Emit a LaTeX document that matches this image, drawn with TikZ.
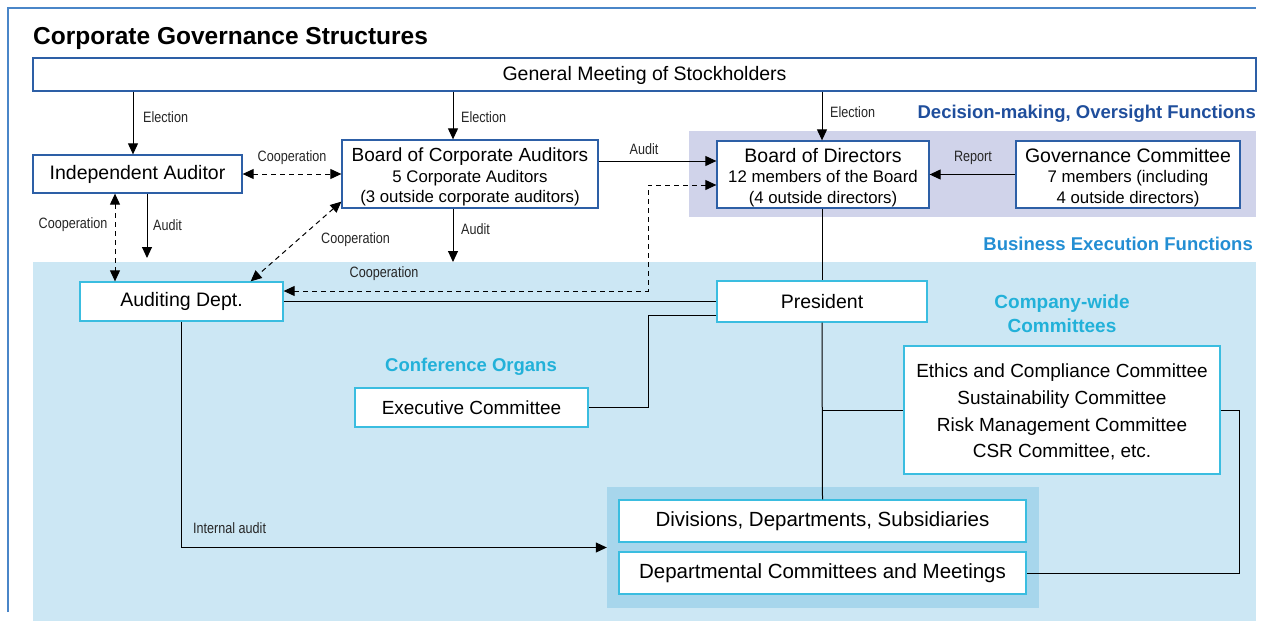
\documentclass[tikz,border=0pt]{standalone}
\usepackage{fontspec}
\setmainfont{Liberation Sans}
\newfontfamily\condfont[FakeStretch=0.84]{Liberation Sans}
\usetikzlibrary{arrows.meta}
\definecolor{frameblue}{HTML}{4A86C8}
\definecolor{dblue}{HTML}{2D5FA6}
\definecolor{cyanb}{HTML}{3ABDE0}
\definecolor{purplebg}{HTML}{D0D3EA}
\definecolor{lightbg}{HTML}{CCE7F4}
\definecolor{darkbg}{HTML}{A7D6EC}
\definecolor{headblue}{HTML}{1F4E9C}
\definecolor{execblue}{HTML}{238ED3}
\definecolor{confcyan}{HTML}{22B1D9}
\newcommand{\toppad}[1]{\rule{0pt}{#1}}
\tikzset{
  bx/.style={draw=dblue, line width=1.3pt, fill=white, inner sep=0pt, align=center,
    font=\fontsize{19.5}{22}\selectfont},
  cbx/.style={bx, draw=cyanb},
  sub/.style={font=\fontsize{16.8}{20.5}\selectfont},
  region/.style={inner sep=0pt, draw=none},
  lbl/.style={font=\condfont\fontsize{15}{17}\selectfont, text=black!85, inner sep=0pt},
  head/.style={font=\bfseries\fontsize{18.5}{24}\selectfont, inner sep=0pt, align=center},
  arr/.style={-{Triangle[length=11pt,width=10pt]}, line width=1pt},
  darr/.style={{Triangle[length=11pt,width=10pt]}-{Triangle[length=11pt,width=10pt]},
    dash pattern=on 5pt off 4pt, line width=1pt},
  ln/.style={line width=1pt},
}
\begin{document}
\begin{tikzpicture}[x=1pt,y=-1pt]
\useasboundingbox (0,0) rectangle (1266,621);
% frame
\draw[frameblue, line width=1.8pt] (8,612) -- (8,8) -- (1256,8);
% regions
\node[region, fill=purplebg, minimum width=567pt, minimum height=86pt] (purple) at (972.5,174) {};
\node[region, fill=lightbg, minimum width=1223pt, minimum height=359pt] (light) at (644.5,441.5) {};
\node[region, fill=darkbg, minimum width=432pt, minimum height=121pt] (dark) at (823,547.5) {};
% helper coordinates
\coordinate (cA) at (133,0);
\coordinate (cB) at (453,0);
\coordinate (cC) at (822,0);
\coordinate (c115) at (115,0);
\coordinate (c147) at (147,0);
\coordinate (c161) at (0,161);
\coordinate (c185) at (0,185);
\coordinate (c291) at (0,291);
\coordinate (c315) at (0,315);
\coordinate (c648) at (648,0);
\coordinate (iaEnd) at (147,258);
\coordinate (bcaEnd) at (453,262);
% title
\node[anchor=base west, inner sep=0pt, font=\bfseries\fontsize{24.5}{28}\selectfont] (title) at (33,44) {Corporate Governance Structures};
% nodes
\node[bx, minimum width=1223pt, minimum height=33pt] (gm) at (644.5,74.5) {\toppad{17pt}General Meeting of Stockholders};
\node[bx, minimum width=209pt, minimum height=38pt] (ia) at (137.5,174) {\toppad{16pt}Independent Auditor};
\node[bx, sub, minimum width=256pt, minimum height=68pt] (bca) at (470,174)
  {\toppad{20pt}{\fontsize{19}{20.5}\selectfont Board of Corporate Auditors}\\5 Corporate Auditors\\(3 outside corporate auditors)};
\node[bx, sub, minimum width=212pt, minimum height=67pt] (bod) at (823,174.5)
  {\toppad{20pt}{\fontsize{19.5}{20.5}\selectfont Board of Directors}\\12 members of the Board\\(4 outside directors)};
\node[bx, sub, minimum width=224pt, minimum height=67pt] (gc) at (1128,174.5)
  {\toppad{20pt}{\fontsize{19.5}{20.5}\selectfont Governance Committee}\\7 members (including\\4 outside directors)};
\node[cbx, minimum width=203pt, minimum height=39pt] (ad) at (181.5,301.5) {Auditing Dept.};
\node[cbx, minimum width=210pt, minimum height=41pt] (pres) at (822,301.5) {President};
\node[cbx, minimum width=233pt, minimum height=39pt, font=\fontsize{19}{22}\selectfont] (exec) at (471.5,407.5) {Executive Committee};
\node[cbx, minimum width=316pt, minimum height=128pt, font=\fontsize{19}{26.7}\selectfont] (com) at (1062,410)
  {\toppad{18pt}Ethics and Compliance Committee\\Sustainability Committee\\Risk Management Committee\\CSR Committee, etc.};
\node[cbx, minimum width=407pt, minimum height=42pt, font=\fontsize{20.5}{22}\selectfont] (div) at (822.5,521) {Divisions, Departments, Subsidiaries};
\node[cbx, minimum width=407pt, minimum height=42pt, font=\fontsize{20.5}{22}\selectfont] (dcm) at (822.5,573) {Departmental Committees and Meetings};
% headings
\node[head, text=headblue, anchor=base east] (hdec) at (1256,118) {Decision-making, Oversight Functions};
\node[head, text=execblue, anchor=base east] (hexe) at (1253,250) {Business Execution Functions};
\node[head, text=confcyan, font=\bfseries\fontsize{19}{24}\selectfont] (hcw) at (1062,314) {Company-wide\\Committees};
\node[head, text=confcyan] (hco) at (471,367) {Conference Organs};
% connectors
\draw[arr] (gm.south -| cA) -- (ia.north -| cA);
\node[lbl, anchor=west] (l1) at (143,117) {Election};
\draw[arr] (gm.south -| cB) -- (bca.north -| cB);
\node[lbl, anchor=west] (l2) at (461,117) {Election};
\draw[arr] (gm.south -| cC) -- (bod.north -| cC);
\node[lbl, anchor=west] (l3) at (830,112) {Election};
\draw[darr] (ia.east) -- (bca.west |- ia.east);
\node[lbl] (l4) at (292,158) {Cooperation};
\draw[darr] (ia.south -| c115) -- (ad.north -| c115);
\node[lbl] (l5) at (73,225) {Cooperation};
\draw[arr] (ia.south -| c147) -- (iaEnd);
\node[lbl, anchor=west] (l6) at (153,225) {Audit};
\draw[arr] (bca.south -| cB) -- (bcaEnd);
\node[lbl, anchor=west] (l7) at (461,229) {Audit};
\draw[darr] ([yshift=7pt]bca.south west) -- ([xshift=-33pt]ad.north east);
\node[lbl, anchor=west] (l8) at (321,240) {Cooperation};
\draw[arr] (bca.east |- c161) -- (bod.west |- c161);
\node[lbl] (l9) at (644,149) {Audit};
\draw[darr] (ad.east |- c291) -| (c648 |- c185) -- (bod.west |- c185);
\node[lbl] (l10) at (384,274) {Cooperation};
\draw[arr] (gc.west) -- (bod.east);
\node[lbl] (l11) at (973,158) {Report};
\draw[ln] (ad.east) -- (pres.west);
\draw[ln] (bod.south -| cC) -- (pres.north);
\draw[ln] (pres.west |- c315) -| (exec.east -| c648) -- (exec.east);
\draw[ln] (pres.south) -- (div.north);
\draw[ln] (pres.south |- com.west) -- (com.west);
\draw[ln] (com.east) -- ++(19,0) |- (dcm.east);
\draw[arr] (ad.south) |- (dark.west);
\node[lbl, anchor=west] (l12) at (193,528) {Internal audit};
\end{tikzpicture}
\end{document}
